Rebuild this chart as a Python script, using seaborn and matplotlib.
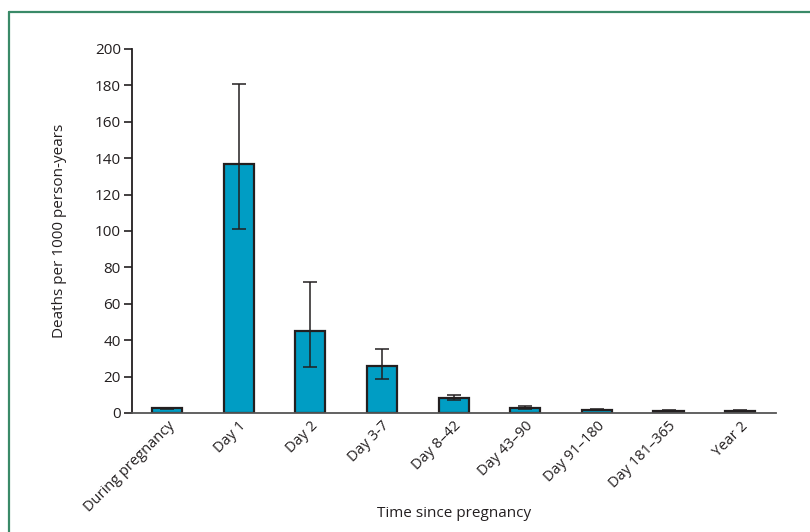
import matplotlib
matplotlib.use("Agg")
import matplotlib.pyplot as plt
from matplotlib.lines import Line2D
import seaborn as sns
import pandas as pd

categories = ["During pregnancy", "Day 1", "Day 2", "Day 3-7", "Day 8\u201342",
              "Day 43\u201390", "Day 91\u2013180", "Day 181\u2013365", "Year 2"]
rates = [2.5, 137.0, 45.0, 26.0, 8.4, 2.7, 1.9, 1.3, 1.3]
ci_low = [2.1, 101.0, 25.5, 18.8, 6.9, 2.0, 1.6, 1.0, 1.0]
ci_high = [2.9, 180.5, 72.2, 35.0, 9.7, 4.0, 2.3, 1.7, 1.6]
yticks = [0, 20, 40, 60, 80, 100, 120, 140, 160, 180, 200]

df = pd.DataFrame({"period": categories, "rate": rates})

sns.set_theme(style="white")
plt.rcParams["font.family"] = ["Open Sans", "DejaVu Sans"]

fig = plt.figure(figsize=(8.1, 5.32), dpi=100)
ax = fig.add_axes([0.163, 0.2237, 0.795, 0.6843])

sns.barplot(data=df, x="period", y="rate", ax=ax, color="#009dc4",
            saturation=1, edgecolor="#231f20", linewidth=1.6, width=0.42,
            errorbar=None)

xs = list(range(len(categories)))
yerr = [[r - l for r, l in zip(rates, ci_low)], [h - r for r, h in zip(rates, ci_high)]]
ax.errorbar(xs, rates, yerr=yerr, fmt="none", ecolor="#231f20",
            elinewidth=1.1, capsize=5, capthick=1.1, zorder=5)

ax.set_xlim(-0.49, 8.5)
ax.set_ylim(0, 200)
ax.set_yticks(yticks)
ax.set_yticklabels([str(t) for t in yticks], fontsize=11, color="#231f20")
ax.set_xticks(xs)
ax.set_xticklabels(categories, rotation=45, ha="right", rotation_mode="anchor",
                   fontsize=10.5, color="#231f20")
ax.tick_params(axis="y", which="both", left=True, length=6, width=1.2,
               color="#231f20", pad=2)
ax.tick_params(axis="x", which="both", bottom=False, length=0, pad=4)

for s in ["top", "right"]:
    ax.spines[s].set_visible(False)
ax.spines["left"].set_color("#231f20")
ax.spines["left"].set_linewidth(1.3)
ax.spines["bottom"].set_color("#555555")
ax.spines["bottom"].set_linewidth(1.3)

ax.set_ylabel("Deaths per 1000 person-years", fontsize=11, color="#231f20")
ax.yaxis.set_label_coords(-0.101, 0.5)
ax.set_xlabel("Time since pregnancy", fontsize=11, color="#231f20")
ax.xaxis.set_label_coords(0.5, -0.255)
ax.grid(False)

green = "#3a8a68"
fig.add_artist(Line2D([9 / 810, 9 / 810], [0, 1 - 12 / 532], color=green, lw=1.6,
                      transform=fig.transFigure))
fig.add_artist(Line2D([9 / 810, 1], [1 - 12 / 532, 1 - 12 / 532], color=green, lw=1.6,
                      transform=fig.transFigure))

fig.savefig("out.png", dpi=100)
